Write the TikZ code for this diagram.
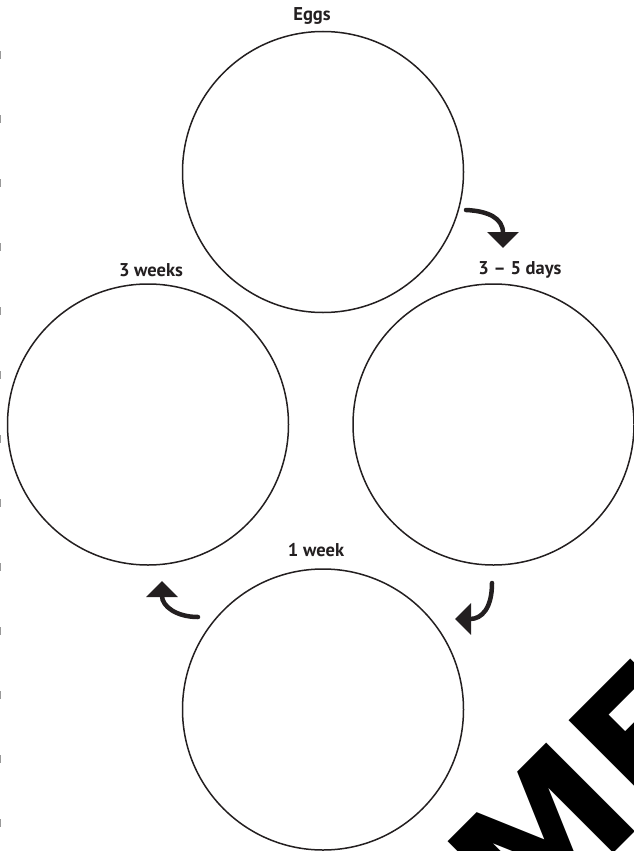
\documentclass[tikz,border=0pt]{standalone}
\usepackage{fontspec}
\setmainfont{PT Sans}
\newfontfamily\wmfont{DejaVu Sans}
\usetikzlibrary{arrows.meta}
\definecolor{ink}{RGB}{35,31,32}
\tikzset{
  stage/.style={circle,draw=ink,line width=1.5pt,minimum size=281pt,inner sep=0pt},
  lbl/.style={anchor=base,font=\bfseries\fontsize{18.5}{20}\selectfont,text=ink,inner sep=0pt},
  turn/.style={draw=ink,line width=4.5pt,line cap=round,-{Triangle[length=16pt,width=31pt]}},
  punch/.style={fill=black!40,draw=none},
}
\begin{document}
\begin{tikzpicture}[x=1pt,y=-1pt]
  \useasboundingbox (0,0) rectangle (634,851);
  % punch marks on the left edge
  \foreach \k in {0,...,12}
    \fill[punch] (0,51+64*\k) rectangle (1.3,59+64*\k);
  % stages
  \node[stage] (eg)  at (323,172) {};
  \node[stage] (d35) at (493.5,424.5) {};
  \node[stage] (w1)  at (323,709.5) {};
  \node[stage] (w3)  at (148,424.5) {};
  % labels
  \node[lbl] at (312,21) {Eggs};
  \node[lbl] at (520,274) {3 – 5 days};
  \node[lbl] at (316,556) {1 week};
  \node[lbl] at (151,276) {3 weeks};
  % arrows
  \coordinate (a1) at (466,210);
  \coordinate (b1) at (503,248);
  \coordinate (a2) at (492,583);
  \coordinate (b2) at (455,619);
  \coordinate (a3) at (198,617);
  \coordinate (b3) at (162,581);
  \draw[turn] (a1) .. controls (488,211) and (503,218) .. (b1);
  \draw[turn] (a2) .. controls (492,608) and (482,619) .. (b2);
  \draw[turn] (a3) .. controls (176,617) and (162,606) .. (b3);
  % watermark
  \begin{scope}
    \clip (0,0) rectangle (634,851);
    \node[anchor=base west,rotate=45,inner sep=0pt,font=\wmfont\bfseries\fontsize{172}{172}\selectfont]
      (wm) at (525,942) {ME};
  \end{scope}
\end{tikzpicture}
\end{document}
